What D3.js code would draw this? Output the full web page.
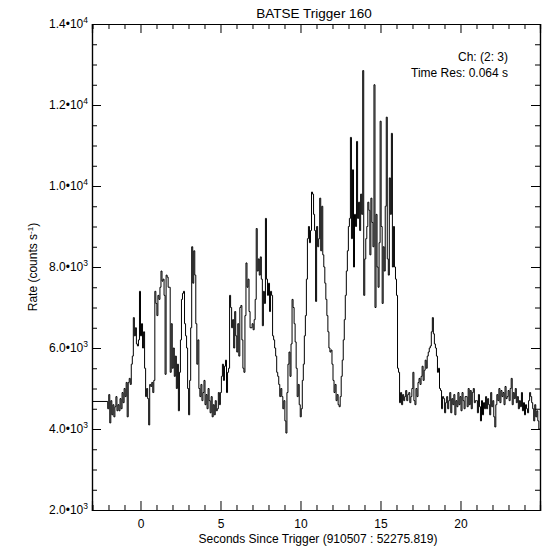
<!DOCTYPE html>
<html>
<head>
<meta charset="utf-8">
<script src="https://cdn.jsdelivr.net/npm/d3@7"></script>
<style>
  html, body { margin: 0; padding: 0; background: #fff; }
  svg text { font-family: "Liberation Sans", Arial, Helvetica, sans-serif; fill: #000; }
</style>
</head>
<body>
<svg id="chart" width="547" height="549"></svg>
<script>
// ---------------- data ----------------
const chartTitle = "BATSE Trigger 160";
const xAxisTitle = "Seconds Since Trigger (910507 : 52275.819)";
const annotations = ["Ch: (2: 3)", "Time Res: 0.064 s"];

const xMajorTicks = [0, 5, 10, 15, 20];
const xTickLabels = ["0", "5", "10", "15", "20"];
const yMajorTicks = [2000, 4000, 6000, 8000, 10000, 12000, 14000];
const yTickMantissas = ["2.0", "4.0", "6.0", "8.0", "1.0", "1.2", "1.4"];
const yTickExponents = ["3", "3", "3", "3", "4", "4", "4"];

const preTime = -3.031;   // start of plotted pre-trigger level
const preRate = 4680;     // pre-trigger background level
const binStart = -2.048;  // start of first 0.064 s bin
const binRes = 0.064;

// count rate per 0.064 s bin (counts/s)
const rates = [
  4500, 4850, 4150, 4700, 4350, 4600, 4300, 4550, 4800, 4450,
  4600, 4450, 4750, 4500, 4900, 4650, 5000, 4800, 5150, 4300,
  5150, 5250, 5100, 5600, 5800, 6750, 6300, 6500, 6100, 6050,
  6200, 7400, 6300, 6600, 6000, 6400, 5500, 4800, 5000, 4750,
  4100, 5100, 5050, 5150, 4900, 5200, 7400, 7100, 6800, 7300,
  7200, 7500, 7900, 7650, 7700, 7300, 5350, 7800, 7750, 7500,
  7500, 5400, 6600, 5500, 6000, 5300, 5800, 5000, 5600, 4450,
  5400, 6200, 7200, 7350, 7400, 6600, 6300, 6000, 5000, 4350,
  5200, 6500, 8500, 7600, 8400, 7800, 6600, 5600, 6200, 5000,
  4800, 5100, 4700, 4900, 5200, 4600, 4850, 4500, 5000, 4700,
  4400, 4800, 4300, 4600, 4350, 4700, 4450, 4500, 4900, 4600,
  4900, 5300, 5600, 5200, 5550, 5700, 4900, 5400, 5500, 7300,
  7000, 6500, 6700, 6000, 6900, 6300, 5900, 6600, 5800, 7000,
  7050, 6200, 5500, 5400, 6800, 8100, 7500, 7700, 6900, 6500,
  6500, 6600, 6450, 6700, 7200, 8950, 7900, 8200, 7800, 8250,
  7700, 6550, 7400, 7100, 9200, 7700, 7300, 7600, 6900, 7400,
  7300, 6300, 6200, 6000, 5800, 5400, 5300, 5100, 4800, 5000,
  4800, 4500, 4700, 4200, 3900, 4900, 5600, 5900, 5300, 6100,
  7200, 7000, 6600, 6150, 5500, 4800, 5100, 4600, 4300, 4500,
  5200, 5600, 6300, 6800, 7700, 8700, 9000, 8600, 8900, 9850,
  9800, 9300, 8900, 7150, 9000, 8500, 8700, 9700, 8400, 9500,
  8300, 8000, 7600, 7200, 6800, 6400, 6000, 5900, 5950, 5600,
  5200, 4900, 5100, 4700, 4850, 4600, 4550, 4800, 5300, 5700,
  6200, 6700, 7300, 7900, 8400, 9000, 9200, 11200, 8700, 10400,
  8000, 9300, 9000, 11100, 9200, 9600, 8900, 9800, 9300, 12850,
  7300, 8200, 8700, 9000, 9600, 9400, 8300, 9700, 9100, 8500,
  12500, 7000, 9300, 8000, 7500, 8600, 11600, 9000, 7100, 8500,
  7900, 9500, 11700, 8200, 7800, 10200, 9300, 11300, 8000, 9000,
  8000, 7700, 7300, 5500, 5400, 4650, 4900, 4600, 4850, 4700,
  4800, 4950, 4700, 4850, 4900, 4650, 4800, 5000, 5400, 4700,
  4600, 5000, 4800, 5150, 5250, 5100, 5300, 5550, 5200, 5450,
  5700, 5500, 5800, 5900, 6000, 6050, 6400, 6750, 6350, 6100,
  6000, 5800, 5400, 5500, 5000, 4950, 4500, 4800, 4750, 4400,
  4650, 4800, 4500, 4700, 4900, 4400, 4750, 4600, 4850, 4350,
  4700, 4550, 4900, 4600, 4800, 4450, 4900, 4700, 4500, 4800,
  4800, 4550, 5000, 4600, 4950, 4500, 4900, 5000, 4650, 4700,
  4700, 4400, 4850, 4550, 4200, 4700, 4350, 4650, 4500, 4800,
  4500, 4750, 4600, 4350, 4900, 4550, 4700, 4300, 4050, 4600,
  4850, 4700, 5000, 4650, 4950, 4800, 4900, 4600, 5050, 4750,
  4800, 4950, 4700, 5000, 5250, 4600, 4900, 4750, 5000, 4650,
  4800, 4500, 4700, 4550, 4900, 4450, 4650, 4350, 4600, 4500,
  4400, 4700, 4900, 4800, 4650, 4500, 4200, 4600, 4300, 4450,
  4200, 4000
];

// ---------------- layout ----------------
const svg = d3.select("#chart");
const mLeft = 92, mRight = 540, mTop = 24, mBottom = 510;

const x = d3.scaleLinear().domain([-3.031, 24.969]).range([mLeft, mRight]);
const y = d3.scaleLinear().domain([2000, 14000]).range([mBottom, mTop]);

// points for step line
const pts = [[preTime, preRate]];
rates.forEach((r, i) => pts.push([binStart + i * binRes, r]));
pts.push([binStart + rates.length * binRes, rates[rates.length - 1]]);

svg.append("defs").append("clipPath").attr("id", "clip")
  .append("rect").attr("x", mLeft).attr("y", mTop)
  .attr("width", mRight - mLeft).attr("height", mBottom - mTop);

const line = d3.line().x(d => x(d[0])).y(d => y(d[1])).curve(d3.curveStepAfter);
svg.append("path").datum(pts)
  .attr("clip-path", "url(#clip)")
  .attr("d", line)
  .attr("fill", "none").attr("stroke", "#000").attr("stroke-width", 1);

// ---------------- axes ----------------
const xMinor = d3.range(-3, 25, 1).filter(v => !xMajorTicks.includes(v));
const yMinor = d3.range(2500, 14000, 500).filter(v => !yMajorTicks.includes(v));

const gB = svg.append("g").attr("transform", `translate(0,${mBottom})`)
  .call(d3.axisBottom(x).tickValues(xMajorTicks).tickSize(-9).tickFormat((d, i) => xTickLabels[i]).tickPadding(9));
svg.append("g").attr("transform", `translate(0,${mBottom})`)
  .call(d3.axisBottom(x).tickValues(xMinor).tickSize(-5).tickFormat(""));
svg.append("g").attr("transform", `translate(0,${mTop})`)
  .call(d3.axisTop(x).tickValues(xMajorTicks).tickSize(-9).tickFormat(""));
svg.append("g").attr("transform", `translate(0,${mTop})`)
  .call(d3.axisTop(x).tickValues(xMinor).tickSize(-5).tickFormat(""));
const gL = svg.append("g").attr("transform", `translate(${mLeft},0)`)
  .call(d3.axisLeft(y).tickValues(yMajorTicks).tickSize(-9).tickFormat(""));
svg.append("g").attr("transform", `translate(${mLeft},0)`)
  .call(d3.axisLeft(y).tickValues(yMinor).tickSize(-5).tickFormat(""));
svg.append("g").attr("transform", `translate(${mRight},0)`)
  .call(d3.axisRight(y).tickValues(yMajorTicks).tickSize(-9).tickFormat(""));
svg.append("g").attr("transform", `translate(${mRight},0)`)
  .call(d3.axisRight(y).tickValues(yMinor).tickSize(-5).tickFormat(""));

svg.selectAll(".domain").attr("stroke", "#000").attr("stroke-width", 1.2);
svg.selectAll(".tick line").attr("stroke", "#000").attr("stroke-width", 1);

gB.selectAll(".tick text")
  .attr("font-size", 12)
  .attr("font-family", '"Liberation Sans", Arial, sans-serif');

gL.selectAll(".tick").each(function(d, i) {
  const t = d3.select(this).append("text")
    .attr("x", -4).attr("y", 0).attr("dy", "0.32em")
    .attr("text-anchor", "end")
    .attr("font-size", 12)
    .attr("font-family", '"Liberation Sans", Arial, sans-serif')
    .attr("fill", "#000");
  t.append("tspan").text(yTickMantissas[i] + "\u202210");
  t.append("tspan").attr("dy", -5).attr("font-size", 8.5).text(yTickExponents[i]);
});

// ---------------- texts ----------------
svg.append("text").attr("x", 314).attr("y", 18)
  .attr("text-anchor", "middle").attr("font-size", 13.5).text(chartTitle);

svg.append("text").attr("x", (mLeft + mRight) / 2 + 2).attr("y", 543)
  .attr("text-anchor", "middle").attr("font-size", 12).text(xAxisTitle);

const yt = svg.append("text")
  .attr("transform", `translate(37,${(mTop + mBottom) / 2}) rotate(-90)`)
  .attr("text-anchor", "middle").attr("font-size", 12);
yt.append("tspan").text("Rate (counts s");
yt.append("tspan").attr("dy", -4).attr("font-size", 8).text("-1");
yt.append("tspan").attr("dy", 4).text(")");

annotations.forEach((a, i) => {
  svg.append("text").attr("x", 508).attr("y", 61 + i * 16)
    .attr("text-anchor", "end").attr("font-size", 12).text(a);
});
</script>
</body>
</html>
